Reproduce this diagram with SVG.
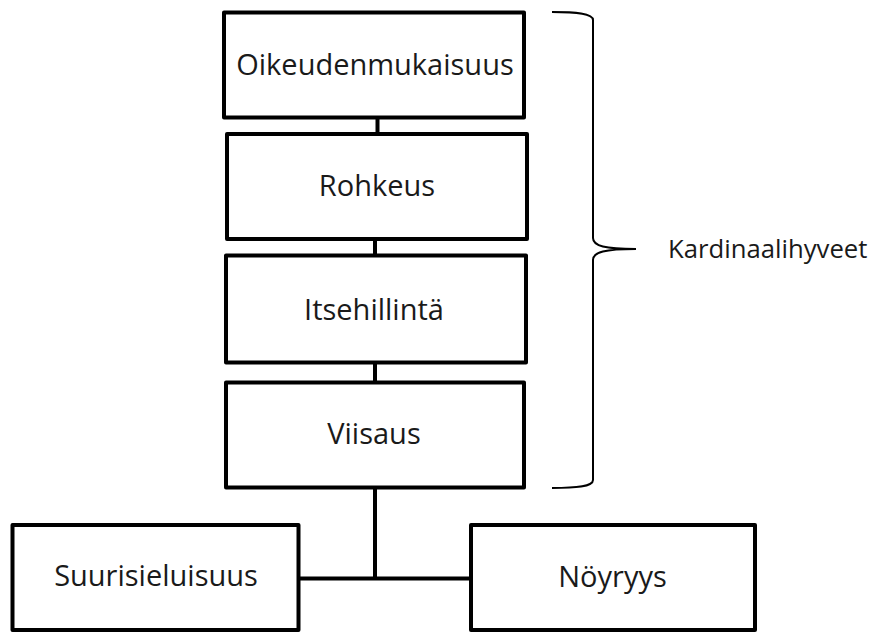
<svg xmlns="http://www.w3.org/2000/svg" width="872" height="632" viewBox="0 0 872 632">
  <style>
    .box { fill: #ffffff; stroke: #000000; stroke-width: 4; stroke-linejoin: round; }
    .link { fill: none; stroke: #000000; stroke-width: 4; }
    .brace { fill: none; stroke: #000000; stroke-width: 2; }
    .label { font-family: "Open Sans", "Noto Sans", "DejaVu Sans", sans-serif; font-size: 29px; fill: #1a1a1a; text-anchor: middle; }
    .side { font-family: "Open Sans", "Noto Sans", "DejaVu Sans", sans-serif; font-size: 25.7px; fill: #1a1a1a; }
  </style>
  <rect width="872" height="632" fill="#ffffff"/>

  <!-- connectors -->
  <g id="connectors">
    <line class="link" x1="377.5" y1="117.5" x2="377.5" y2="134"/>
    <line class="link" x1="375" y1="239" x2="375" y2="255.5"/>
    <line class="link" x1="375" y1="362.5" x2="375" y2="382.5"/>
    <line class="link" x1="375" y1="487.5" x2="375" y2="578.5"/>
    <line class="link" x1="298.5" y1="578.5" x2="471" y2="578.5"/>
  </g>

  <g id="oikeudenmukaisuus">
    <rect class="box" x="224" y="12.5" width="300" height="105"/>
    <text class="label" x="375" y="74.5">Oikeudenmukaisuus</text>
  </g>
  <g id="rohkeus">
    <rect class="box" x="227" y="134" width="300" height="105"/>
    <text class="label" x="377" y="196">Rohkeus</text>
  </g>
  <g id="itsehillinta">
    <rect class="box" x="226" y="255.5" width="300" height="107"/>
    <text class="label" x="374" y="319.5">Itsehillintä</text>
  </g>
  <g id="viisaus">
    <rect class="box" x="226" y="382.5" width="298" height="105"/>
    <text class="label" x="374" y="444">Viisaus</text>
  </g>
  <g id="suurisieluisuus">
    <rect class="box" x="12.5" y="525" width="286" height="105"/>
    <text class="label" x="156" y="586">Suurisieluisuus</text>
  </g>
  <g id="noyryys">
    <rect class="box" x="471" y="525" width="284" height="105"/>
    <text class="label" x="612.5" y="587">Nöyryys</text>
  </g>

  <!-- curly brace grouping the four cardinal virtues -->
  <g id="kardinaalihyveet">
    <path class="brace" d="M552,12 C575,12 593,13 593,20 L593,238 C593,246 605,249 636,249 C605,249 593,252 593,260 L593,480 C593,487 575,488 552,488"/>
    <text class="side" x="668" y="258">Kardinaalihyveet</text>
  </g>
</svg>
